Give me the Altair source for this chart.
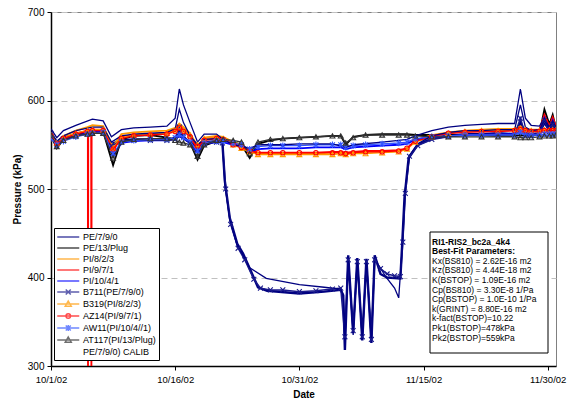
import json
import altair as alt
import pandas as pd

# ---------------- data (days since 10/1/02, pressure kPa) ----------------
G = [0, 0.7, 1.5, 3, 4.4, 5, 6.3, 7.5, 8.5, 10,
     12, 14, 15, 15.5, 16, 16.8, 17.7, 18.5, 20, 20.8,
     22, 23, 24, 25, 26.5, 28, 30, 32, 34, 35,
     35.6, 36.5, 38, 40, 42, 43, 44, 46, 48, 50,
     52, 54, 56, 56.7, 57.3, 58, 59, 59.6, 60.2, 60.6, 61]

pe13_plug = [560, 546, 556, 561, 564, 565, 565, 527, 556, 560,
             561, 558, 556, 560, 557, 552, 533, 549, 554, 556,
             553, 550, 535, 551, 555, 557, 558, 559, 560, 560,
             550, 559, 561, 562, 562, 562, 561, 561, 561, 561,
             561, 560, 560, 561, 560, 560, 562, 590, 573, 584, 568]

pi823 = [562, 553, 560, 566, 570, 572, 571, 548, 562, 564,
         565, 566, 569, 574, 570, 563, 548, 558, 560, 559,
         553, 550, 544, 540, 540, 540, 540, 540, 541, 541,
         540, 541, 542, 542, 543, 545, 555, 561, 564, 566,
         567, 568, 568, 571, 568, 567, 567, 578, 569, 576, 570]

pi1041 = [558, 551, 555, 560, 563, 564, 565, 537, 552, 554,
          555, 555, 557, 560, 557, 552, 541, 551, 553, 553,
          550, 548, 542, 545, 546, 546, 546, 547, 547, 547,
          545, 547, 548, 549, 550, 551, 556, 558, 560, 561,
          561, 562, 562, 566, 562, 561, 562, 580, 565, 577, 565]

red_days = [0, 0.7, 1.5, 3, 4.4, 4.45, 4.47, 4.5, 4.85, 4.88, 4.91, 5, 6.3, 7.5, 8.5, 10,
            12, 14, 15, 15.5, 16, 16.8, 17.7, 18.5, 20, 20.8,
            22, 23, 24, 25, 26.5, 28, 30, 32, 34, 35,
            35.6, 36.5, 38, 40, 42, 43, 44, 46, 48, 50,
            52, 54, 56, 56.7, 57.3, 58, 59, 59.6, 60.2, 60.6, 61]
pi971 = [561, 551, 558, 563, 566, 566, 250, 566, 567, 250, 567, 567, 567, 543, 559, 561,
         562, 563, 566, 572, 567, 560, 545, 556, 558, 557,
         551, 548, 543, 541, 541, 541, 541, 541, 542, 542,
         541, 542, 543, 543, 544, 546, 555, 560, 563, 565,
         565, 566, 566, 570, 567, 566, 567, 584, 571, 581, 571]

pe790_days = [0, 0.7, 1.5, 3, 5, 6.3, 7.3, 8.5, 10, 12, 14, 15, 15.5, 16, 16.8,
              17.7, 18.5, 20, 20.7, 21, 21.6, 22.5, 23.2, 24.3, 25, 26.1, 30, 33, 35, 35.3,
              35.5, 35.9, 36.5, 37, 37.6, 38.1, 38.7, 39.1, 39.8, 40.6, 42.2, 42.4, 42.7, 43.2, 44.3,
              46, 48, 50, 52, 54, 56, 56.7, 57.3, 58, 59, 59.6, 60.2, 60.6, 61]
pe790 = [562, 553, 558, 561, 564, 564, 551, 555, 556, 556, 556, 557, 565, 558, 553,
         547, 553, 554, 553, 509, 467, 438, 427, 404, 389, 385, 382, 384, 386, 380,
         318, 425, 337, 422, 329, 421, 326, 425, 404, 400, 399, 434, 490, 535, 550,
         557, 560, 562, 562, 563, 562, 575, 563, 562, 563, 575, 566, 572, 565]

b711_days = [0, 0.7, 1.5, 3, 5, 6.3, 7.3, 8.5, 10, 12, 14, 15, 15.5, 16, 16.8,
             17.7, 18.5, 20, 20.7, 21.1, 21.7, 22.6, 23.4, 24.5, 25.3, 26.5, 28, 30, 32, 34,
             35, 35.5, 35.9, 36.5, 37, 37.6, 38.1, 38.7, 39.1, 39.8, 40.6, 41.5, 42.2, 42.5, 42.8,
             43.3, 44.3, 46, 48, 50, 52, 54, 56, 56.7, 57.3, 58, 59, 59.6, 60.2, 60.6, 61]
b711 = [563, 552, 557, 560, 563, 563, 549, 554, 555, 555, 555, 556, 570, 560, 552,
        545, 552, 553, 552, 500, 460, 433, 420, 398, 388, 386, 386, 384, 385, 387,
        388, 333, 420, 340, 418, 333, 418, 330, 420, 410, 404, 402, 401, 440, 495,
        537, 549, 556, 559, 561, 561, 562, 561, 580, 562, 561, 562, 578, 565, 573, 565]

b319 = [561, 552, 558, 563, 566, 567, 567, 546, 558, 561,
        562, 563, 566, 570, 566, 561, 550, 557, 558, 557,
        550, 546, 542, 539, 539, 539, 539, 539, 539, 540,
        539, 540, 540, 541, 542, 545, 553, 559, 563, 565,
        566, 566, 567, 568, 567, 566, 566, 567, 567, 567, 567]

az14 = [560, 551, 557, 562, 565, 566, 566, 545, 557, 560,
        561, 562, 565, 569, 565, 559, 548, 555, 557, 556,
        550, 547, 543, 541, 541, 541, 541, 541, 541, 541,
        540, 541, 542, 542, 543, 546, 554, 559, 563, 564,
        565, 565, 566, 567, 566, 565, 565, 566, 566, 566, 566]

aw11 = [557, 550, 554, 559, 562, 563, 564, 540, 553, 555,
        556, 556, 558, 561, 558, 553, 543, 552, 554, 554,
        552, 550, 545, 548, 549, 549, 549, 550, 550, 550,
        547, 549, 550, 551, 552, 553, 557, 559, 560, 561,
        561, 561, 561, 564, 561, 561, 561, 562, 562, 562, 562]

at117 = [561, 548, 555, 560, 562, 563, 563, 535, 553, 556,
         557, 557, 555, 553, 552, 550, 537, 550, 555, 556,
         555, 553, 540, 553, 556, 557, 558, 559, 560, 560,
         552, 558, 561, 561, 561, 561, 560, 559, 559, 559,
         559, 559, 559, 558, 558, 558, 559, 560, 560, 560, 561]

calib1_days = [0, 0.7, 1.5, 3, 5, 6.3, 7.3, 8.5, 10, 12, 14, 15, 15.5, 16, 16.8,
               17.7, 18.5, 20, 20.8, 22, 24, 25, 28, 30, 34, 35.6, 36.5, 40, 42, 43,
               44, 46, 48, 50, 52, 54, 56, 56.7, 57.3, 58, 59, 59.6, 60.2, 60.6, 61]
calib1 = [568, 558, 566, 572, 579, 577, 559, 567, 569, 570, 571, 580, 613, 595, 575,
          553, 562, 562, 556, 550, 546, 550, 550, 551, 551, 547, 550, 553, 555, 556,
          560, 566, 570, 572, 573, 574, 574, 613, 580, 572, 571, 580, 570, 577, 570]

calib2_days = [0, 0.7, 1.5, 3, 5, 6.3, 7.3, 8.5, 10, 12, 14, 15, 15.5, 16, 16.8,
               17.7, 18.5, 20, 20.7, 21, 21.6, 22.5, 23.2, 24, 26, 30, 33, 35, 35.3, 35.5,
               35.9, 36.5, 37, 37.6, 38.1, 38.7, 39.1, 39.5, 40.5, 41.5, 42, 42.4, 42.8, 43.3, 44.3,
               46, 48, 50, 52, 54, 56, 56.7, 57.3, 58, 59, 59.6, 60.2, 60.6, 61]
calib2 = [565, 554, 560, 566, 570, 570, 553, 560, 562, 563, 564, 568, 590, 575, 560,
          550, 556, 557, 555, 505, 465, 436, 425, 411, 399, 392, 389, 387, 380, 325,
          423, 335, 420, 330, 420, 328, 423, 415, 400, 388, 377, 430, 500, 538, 551,
          560, 564, 566, 566, 567, 567, 595, 570, 566, 567, 578, 568, 575, 567]

series_order = ["PE/7/9/0", "PE/13/Plug", "PI/8/2/3", "PI/9/7/1", "PI/10/4/1",
                "B711(PE/7/9/0)", "B319(PI/8/2/3)", "AZ14(PI/9/7/1)",
                "AW11(PI/10/4//1)", "AT117(PI/13/Plug)", "PE/7/9/0) CALIB"]
series_colors = ["#000080", "#000000", "#FF9900", "#FF0000", "#0000FF",
                 "#1A1A8C", "#FF9900", "#FF0000", "#3355FF", "#333333", "#000080"]

tick_days = [0, 15, 30, 45, 60]
tick_labels = ["10/1/02", "10/16/02", "10/31/02", "11/15/02", "11/30/02"]

param_title = ["RI1-RIS2_bc2a_4k4", "Best-Fit Parameters:"]
param_lines = ["Kx(BS810) = 2.62E-16 m2", "Kz(BS810) = 4.44E-18 m2",
               "K(BSTOP) = 1.09E-16 m2", "Cp(BS810) = 3.30E-8 1/Pa",
               "Cp(BSTOP) = 1.0E-10 1/Pa", "k(GRINT) = 8.80E-16 m2",
               "k-fact(BSTOP)=10.22", "Pk1(BSTOP)=478kPa", "Pk2(BSTOP)=559kPa"]

# ---------------- styles ----------------
XPATH = "M-1,-1L1,1M-1,1L1,-1"
STAR = "M-1,-1L1,1M-1,1L1,-1M0,-1.3L0,1.3"

rows = []
def add(name, run, days, vals, sw):
    for d, v in zip(days, vals):
        rows.append({"series": name, "run": run, "day": d, "p": v, "sw": sw})

add("PE/7/9/0", "pe790", pe790_days, pe790, 2.4)
add("PE/13/Plug", "pe13", G, pe13_plug, 1.8)
add("PI/8/2/3", "pi823", G, pi823, 1.8)
add("PI/9/7/1", "pi971", red_days, pi971, 1.8)
add("PI/10/4/1", "pi1041", G, pi1041, 1.8)
add("B711(PE/7/9/0)", "b711", b711_days, b711, 1.5)
add("B319(PI/8/2/3)", "b319", G, b319, 1.3)
add("AZ14(PI/9/7/1)", "az14", G, az14, 1.3)
add("AW11(PI/10/4//1)", "aw11", G, aw11, 1.3)
add("AT117(PI/13/Plug)", "at117", G, at117, 1.3)
add("PE/7/9/0) CALIB", "calib1", calib1_days, calib1, 1.3)
add("PE/7/9/0) CALIB", "calib2", calib2_days, calib2, 1.3)
df = pd.DataFrame(rows)

marker_defs = [("B711(PE/7/9/0)", XPATH, 24), ("B319(PI/8/2/3)", "triangle-up", 24),
               ("AZ14(PI/9/7/1)", "circle", 20), ("AW11(PI/10/4//1)", STAR, 24),
               ("AT117(PI/13/Plug)", "triangle-up", 24)]

FONT = "Liberation Sans"

xscale = alt.Scale(domain=[0, 61], nice=False, zero=False)
yscale = alt.Scale(domain=[300, 700], nice=False, zero=False)
xaxis = alt.Axis(values=tick_days,
                 labelExpr=f"{json.dumps(tick_labels)}[indexof({json.dumps(tick_days)}, datum.value)]",
                 title="Date", grid=False, labelFlush=False, labelOverlap=False,
                 domainColor="black", domainWidth=1.5, tickColor="black", tickSize=4,
                 labelFont=FONT, labelFontSize=9.5, labelColor="black", labelPadding=4,
                 titleFont=FONT, titleFontSize=10, titleFontWeight="bold",
                 titleColor="black", titlePadding=6)
yaxis = alt.Axis(values=[300, 400, 500, 600, 700], title="Pressure (kPa)",
                 grid=True, gridColor="#C0C0C0", gridDash=[6, 4], gridWidth=1,
                 domainColor="black", domainWidth=1.5, tickColor="black", tickSize=4,
                 labelFont=FONT, labelFontSize=10, labelColor="black", labelPadding=3,
                 titleFont=FONT, titleFontSize=10, titleFontWeight="bold",
                 titleColor="black", titlePadding=5)

color_scale = alt.Scale(domain=series_order, range=series_colors)

# legend symbols (line + marker), r = sqrt(size)/2
L = "M-1.15,0H3.25"
legend_paths = [
    L, L, L, L, L,
    L + "M0.55,-0.5L1.55,0.5M0.55,0.5L1.55,-0.5",
    L + "M1.05,-0.6L1.65,0.45L0.45,0.45Z",
    L + "M1.5,0A0.45,0.45 0 1,1 0.6,0A0.45,0.45 0 1,1 1.5,0",
    L + "M0.55,-0.5L1.55,0.5M0.55,0.5L1.55,-0.5M1.05,-0.6L1.05,0.6",
    L + "M1.05,-0.6L1.65,0.45L0.45,0.45Z",
    "M0,0",
]

leg = alt.Legend(title=None, orient="none", legendX=3, legendY=216,
                 strokeColor="black", fillColor="white", padding=3,
                 labelFont=FONT, labelFontSize=9, labelColor="black",
                 labelOffset=14, rowPadding=0, symbolSize=100,
                 symbolStrokeWidth=1.5, symbolFillColor="white", labelLimit=200)

legend_df = pd.DataFrame({"series": series_order, "day": [-50] * len(series_order),
                          "p": [500] * len(series_order)})
legend_layer = alt.Chart(legend_df).mark_point(filled=False, clip=True).encode(
    x=alt.X("day:Q", scale=xscale, axis=xaxis),
    y=alt.Y("p:Q", scale=yscale, axis=yaxis),
    color=alt.Color("series:N", scale=color_scale, legend=leg),
    shape=alt.Shape("series:N", scale=alt.Scale(domain=series_order, range=legend_paths), legend=leg),
)

lines = alt.Chart(df).mark_line(clip=True).encode(
    x=alt.X("day:Q", scale=xscale, axis=xaxis),
    y=alt.Y("p:Q", scale=yscale, axis=yaxis),
    color=alt.Color("series:N", scale=color_scale, legend=None),
    detail="run:N",
    strokeWidth=alt.StrokeWidth("sw:Q", scale=None),
)

marker_layers = []
for name, shp, sz in marker_defs:
    marker_layers.append(
        alt.Chart(df).transform_filter(alt.datum.series == name).mark_point(
            clip=True, filled=False, shape=shp, size=sz, strokeWidth=1.1, opacity=1).encode(
            x=alt.X("day:Q", scale=xscale, axis=xaxis),
            y=alt.Y("p:Q", scale=yscale, axis=yaxis),
            color=alt.Color("series:N", scale=color_scale, legend=None),
        ))

one = pd.DataFrame({"a": [0]})
box = alt.Chart(one).mark_rect(fill="white", stroke="black", strokeWidth=1).encode(
    x=alt.value(379), x2=alt.value(497), y=alt.value(220), y2=alt.value(341))
txt_bold = alt.Chart(one).mark_text(
    align="left", baseline="alphabetic", font=FONT, fontSize=8.5, fontWeight="bold",
    lineBreak="\n", lineHeight=9.6, color="black", text="\n".join(param_title)).encode(
    x=alt.value(381), y=alt.value(232.7))
txt_norm = alt.Chart(one).mark_text(
    align="left", baseline="alphabetic", font=FONT, fontSize=8.5,
    lineBreak="\n", lineHeight=9.6, color="black", text="\n".join(param_lines)).encode(
    x=alt.value(381), y=alt.value(251.9))

chart = alt.layer(legend_layer, lines, *marker_layers, box, txt_bold, txt_norm).properties(
    width=505, height=354,
    autosize=alt.AutoSizeParams(type="none"),
    padding={"left": 43, "top": 4, "right": 20, "bottom": 37},
    background="white",
).configure_view(stroke="#808080", strokeWidth=1)

chart.save("out.html", embed_options={"renderer": "svg", "actions": False})
